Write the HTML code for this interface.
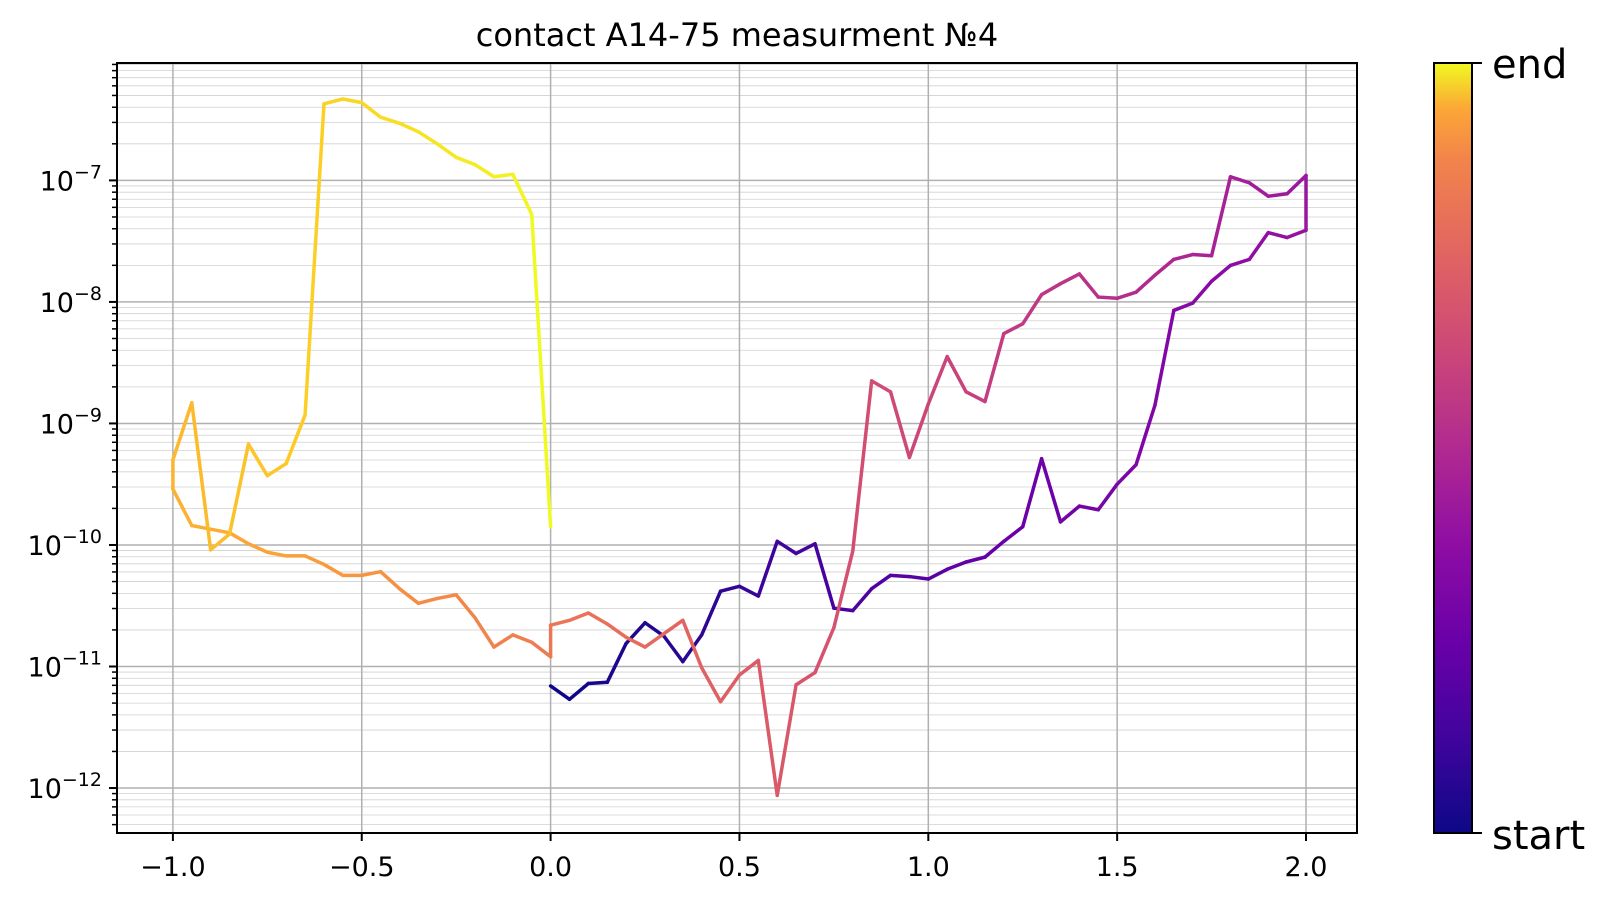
<!DOCTYPE html>
<html><head><meta charset="utf-8"><style>
body{margin:0;background:#fff}
svg{display:block;font-family:"DejaVu Sans","Liberation Sans",sans-serif}
</style></head><body>
<svg id="chart" width="1609" height="900" xmlns="http://www.w3.org/2000/svg">
<defs>
<linearGradient id="cbgrad" x1="0" y1="1" x2="0" y2="0">
<stop offset="0" stop-color="#0d0887"/><stop offset="0.125" stop-color="#41049d"/><stop offset="0.25" stop-color="#6a00a8"/><stop offset="0.375" stop-color="#8f0da4"/><stop offset="0.5" stop-color="#b12a90"/><stop offset="0.625" stop-color="#cc4778"/><stop offset="0.75" stop-color="#e16462"/><stop offset="0.875" stop-color="#f2844b"/><stop offset="0.94" stop-color="#fca636"/><stop offset="1" stop-color="#f0f921"/>
</linearGradient>
</defs>
<text x="737" y="46" font-size="32" text-anchor="middle">contact A14-75 measurment №4</text>
<g id="grid"></g>
<g id="lines"></g>
<rect x="117" y="63" width="1240" height="770" fill="none" stroke="#000" stroke-width="2"/>
<g id="ticks"></g>
<rect x="1434" y="63" width="38" height="770" fill="url(#cbgrad)" stroke="#000" stroke-width="2"/>
<line x1="1472" y1="63" x2="1482" y2="63" stroke="#000" stroke-width="2"/>
<line x1="1472" y1="833" x2="1482" y2="833" stroke="#000" stroke-width="2"/>
<text x="1492" y="78" font-size="40">end</text>
<text x="1492" y="849" font-size="40">start</text>
</svg>
<script>
const logY1 = [-11.16,-11.27,-11.14,-11.13,-10.81,-10.64,-10.75,-10.96,-10.74,-10.38,-10.34,-10.42,-9.97,-10.07,-9.99,-10.52,-10.54,-10.36,-10.25,-10.26,-10.28,-10.20,-10.14,-10.10,-9.97,-9.85,-9.29,-9.81,-9.68,-9.71,-9.50,-9.34,-8.85,-8.07,-8.01,-7.83,-7.70,-7.65,-7.43,-7.47,-7.41];
const logY2 = [-6.96,-7.11,-7.13,-7.02,-6.97,-7.62,-7.61,-7.65,-7.78,-7.92,-7.97,-7.96,-7.77,-7.85,-7.94,-8.18,-8.26,-8.82,-8.74,-8.45,-8.84,-9.28,-8.74,-8.65,-10.05,-10.68,-11.05,-11.15,-12.06,-10.95,-11.07,-11.29,-11.01,-10.62,-10.73,-10.84,-10.76,-10.65,-10.56,-10.62,-10.66];
const logY3 = [-10.92,-10.80,-10.74,-10.84,-10.60,-10.41,-10.44,-10.48,-10.36,-10.22,-10.25,-10.25,-10.16,-10.09,-10.09,-10.06,-9.99,-9.90,-9.87,-9.84,-9.54];
const logY4 = [-9.30,-8.83,-10.04,-9.91,-9.17,-9.43,-9.33,-8.93,-6.37,-6.33,-6.36,-6.48,-6.53,-6.60,-6.70,-6.81,-6.87,-6.97,-6.95,-7.28,-9.85];
const xTicks = [-1.0,-0.5,0.0,0.5,1.0,1.5,2.0];
const xTickLabels = ["\u22121.0","\u22120.5","0.0","0.5","1.0","1.5","2.0"];
const yDecades = [-12,-11,-10,-9,-8,-7];

const NS="http://www.w3.org/2000/svg";
const L=117,R=1357,T=63,B=833;
const xmin=-1.148,xmax=2.135,ymin=-12.37,ymax=-6.034;
const sx=v=>L+(v-xmin)/(xmax-xmin)*(R-L);
const sy=v=>B-(v-ymin)/(ymax-ymin)*(B-T);
function mk(tag,attrs,parent){const e=document.createElementNS(NS,tag);for(const k in attrs)e.setAttribute(k,attrs[k]);parent.appendChild(e);return e;}
const grid=document.getElementById('grid'),ticks=document.getElementById('ticks'),lines=document.getElementById('lines');

const pts=[];
logY1.forEach((v,i)=>pts.push([i*0.05,v]));
logY2.forEach((v,i)=>pts.push([2-i*0.05,v]));
logY3.forEach((v,i)=>pts.push([-i*0.05,v]));
logY4.forEach((v,i)=>pts.push([-1+i*0.05,v]));

for(let d=-13;d<=-6;d++){for(let m=2;m<=9;m++){const lv=d+Math.log10(m);if(lv<ymin||lv>ymax)continue;const y=sy(lv);
const g=mk('line',{x1:L,x2:R,y1:y,y2:y,stroke:'#b0b0b0','stroke-width':0.8,'stroke-opacity':0.6},grid);


mk('line',{x1:L-5,x2:L,y1:y,y2:y,stroke:'#000','stroke-width':1.5},ticks);}}
yDecades.forEach(d=>{const y=sy(d);
const g=mk('line',{x1:L,x2:R,y1:y,y2:y,stroke:'#b0b0b0','stroke-width':1.5},grid);


mk('line',{x1:L-8,x2:L,y1:y,y2:y,stroke:'#000','stroke-width':2},ticks);
const t=mk('text',{x:102,y:y+10,'font-size':27,'text-anchor':'end'},ticks);


const a=document.createElementNS(NS,'tspan');a.textContent='10';t.appendChild(a);
const b=document.createElementNS(NS,'tspan');b.setAttribute('dy','-12');b.setAttribute('font-size','19');b.textContent='\u2212'+(-d);t.appendChild(b);});
xTicks.forEach((v,i)=>{const x=sx(v);
const g=mk('line',{x1:x,x2:x,y1:T,y2:B,stroke:'#b0b0b0','stroke-width':1.5},grid);


mk('line',{x1:x,x2:x,y1:B,y2:B+8,stroke:'#000','stroke-width':2},ticks);
const t=mk('text',{x:x,y:876,'font-size':27,'text-anchor':'middle'},ticks);


t.textContent=xTickLabels[i];});

const stops=[[13,8,135],[65,4,157],[106,0,168],[143,13,164],[177,42,144],[204,71,120],[225,100,98],[242,132,75],[252,166,54],[252,206,37],[240,249,33]];
function plasma(t){const p=t*(stops.length-1);const i=Math.min(Math.floor(p),stops.length-2);const f=p-i;const c=stops[i].map((v,k)=>Math.round(v+(stops[i+1][k]-v)*f));return `rgb(${c})`;}
const N=pts.length;
for(let i=0;i<N-1;i++){
const s=mk('line',{x1:sx(pts[i][0]),y1:sy(pts[i][1]),x2:sx(pts[i+1][0]),y2:sy(pts[i+1][1]),stroke:plasma(i/(N-2)),'stroke-width':3.5,'stroke-linecap':'round'},lines);

}
</script>
</body></html>
